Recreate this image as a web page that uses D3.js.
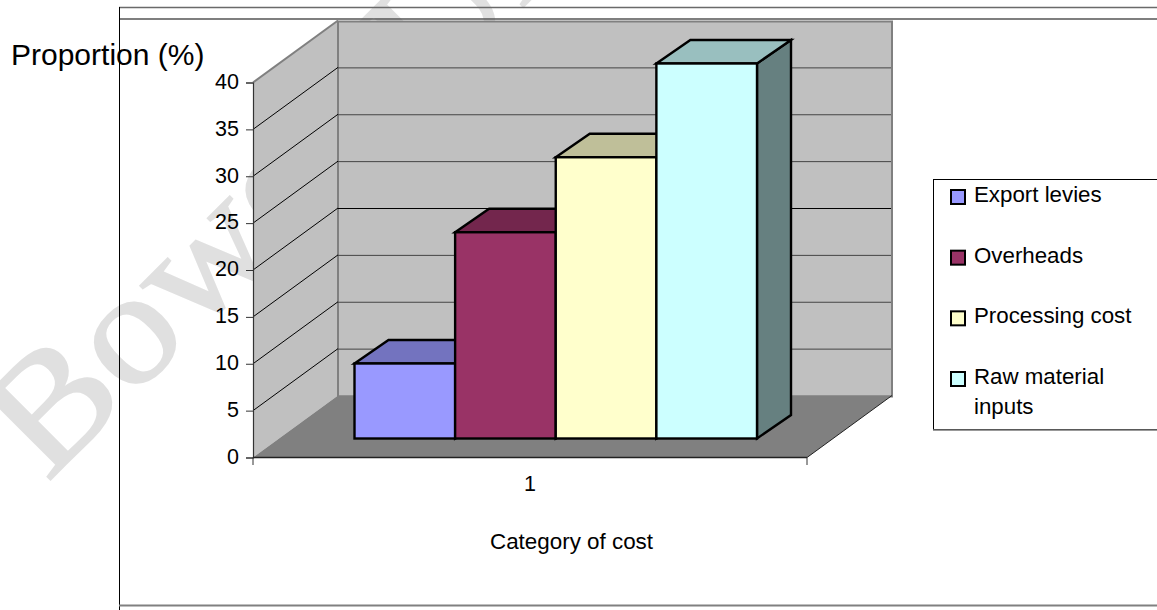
<!DOCTYPE html>
<html>
<head>
<meta charset="utf-8">
<script src="https://cdn.jsdelivr.net/npm/d3@7"></script>
<style>
html,body{margin:0;padding:0;background:#fff;overflow:hidden}
svg{display:block}
text{font-family:"Liberation Sans",Arial,sans-serif;fill:#000}
</style>
</head>
<body>
<div id="chart"></div>
<script>
// Cost shares, one column per cost category
const seriesNames = ["Export levies", "Overheads", "Processing cost", "Raw material inputs"];
const seriesValues = [8, 22, 30, 40];
const frontColors = ["#9999ff", "#993366", "#ffffcc", "#ccffff"];
const topColors = ["#7373bf", "#73264d", "#bfbf99", "#99bfbf"];
const sideColors = ["#4d4d80", "#4d1a33", "#808066", "#668080"];
const yTicks = [0, 5, 10, 15, 20, 25, 30, 35, 40];
const categoryLabels = ["1"];
const legendRows = [["Export levies"], ["Overheads"], ["Processing cost"], ["Raw material", "inputs"]];
const stampText = "Bowen University";

const W = 1157, H = 610;
const svg = d3.select("#chart").append("svg").attr("width", W).attr("height", H);

// Oblique projection: how far the floor recedes, and where columns stand on it
const wallDx = 85, wallDy = -62;
const barDx = 34, barDy = -23.5;
const barLift = -19;

const y = d3.scaleLinear().domain([0, 40]).range([457.5, 82.5]);
const xFloor = d3.scaleBand().domain(categoryLabels).range([253, 807]);
const xBar = d3.scaleBand().domain(seriesNames).range([354.5, 757]);

const pts = a => a.map(p => p.join(",")).join(" ");

// Faint stamp running diagonally under the chart
svg.append("text")
  .attr("transform", "translate(47,483) rotate(-45) scale(1.1,1)")
  .attr("font-size", 160)
  .style("font-family", '"Liberation Serif",serif')
  .style("fill", "#e0e0e0")
  .style("stroke", "#e0e0e0")
  .style("stroke-width", 2)
  .text(stampText);

// Outer frame
const frame = svg.append("g");
frame.append("line").attr("x1", 119).attr("x2", W).attr("y1", 7.5).attr("y2", 7.5).attr("stroke", "#6a6a6a").attr("stroke-width", 1.5);
frame.append("line").attr("x1", 119).attr("x2", W).attr("y1", 19).attr("y2", 19).attr("stroke", "#555").attr("stroke-width", 1.5);
frame.append("line").attr("x1", 119.5).attr("x2", 119.5).attr("y1", 7).attr("y2", H).attr("stroke", "#000").attr("stroke-width", 1);
frame.append("line").attr("x1", 119).attr("x2", W).attr("y1", 605.5).attr("y2", 605.5).attr("stroke", "#808080").attr("stroke-width", 2);

// Walls and floor
const x0 = xFloor.range()[0], x1 = xFloor.range()[1];
const yTop = y(40), yBase = y(0);
const walls = svg.append("g");
walls.append("polygon")
  .attr("points", pts([[x0, yTop], [x0 + wallDx, yTop + wallDy], [x0 + wallDx, yBase + wallDy], [x0, yBase]]))
  .attr("fill", "#c0c0c0");
walls.append("rect")
  .attr("x", x0 + wallDx).attr("y", yTop + wallDy + 1)
  .attr("width", x1 - x0).attr("height", yBase - yTop)
  .attr("fill", "#c0c0c0").attr("stroke", "#808080").attr("stroke-width", 2);
walls.append("polygon")
  .attr("points", pts([[x0, yBase], [x1, yBase], [x1 + wallDx, yBase + wallDy], [x0 + wallDx, yBase + wallDy]]))
  .attr("fill", "#808080");

// Gridlines wrap from the side wall onto the back wall
const grid = svg.append("g");
yTicks.filter(t => t > 0 && t < 40).forEach(t => {
  grid.append("line")
    .attr("x1", x0).attr("y1", y(t)).attr("x2", x0 + wallDx).attr("y2", y(t) + wallDy)
    .attr("stroke", "#000").attr("stroke-width", 1);
  grid.append("line")
    .attr("x1", x0 + wallDx).attr("y1", y(t) + wallDy + 0.5).attr("x2", x1 + wallDx - 1).attr("y2", y(t) + wallDy + 0.5)
    .attr("stroke", t === 20 ? "#000" : "#444").attr("stroke-width", 1);
});
grid.append("line")
  .attr("x1", x0).attr("y1", yTop).attr("x2", x0 + wallDx).attr("y2", yTop + wallDy)
  .attr("stroke", "#808080").attr("stroke-width", 2);
grid.append("line")
  .attr("x1", x1).attr("y1", yBase).attr("x2", x1 + wallDx).attr("y2", yBase + wallDy)
  .attr("stroke", "#222").attr("stroke-width", 1);

// Value axis on the front edge of the side wall
const yAxis = svg.append("g")
  .attr("transform", `translate(${x0},0)`)
  .call(d3.axisLeft(y).tickValues(yTicks).tickSize(7).tickPadding(7));
yAxis.selectAll("path").attr("stroke", "#333").attr("stroke-width", 1.2);
yAxis.selectAll("line").attr("stroke", "#333");
yAxis.selectAll("text").attr("font-size", 21.5).style("font-family", '"Liberation Sans",Arial,sans-serif').attr("dy", "0.27em");

// Category axis along the front of the floor
svg.append("line").attr("x1", x0).attr("x2", x1).attr("y1", yBase).attr("y2", yBase).attr("stroke", "#222").attr("stroke-width", 1.5);
[x0, x1].forEach(px => svg.append("line").attr("x1", px).attr("x2", px).attr("y1", yBase).attr("y2", yBase + 7.5).attr("stroke", "#333").attr("stroke-width", 1));
svg.selectAll(".cat").data(categoryLabels).join("text").attr("class", "cat")
  .attr("x", d => xFloor(d) + xFloor.bandwidth() / 2)
  .attr("y", 491)
  .attr("text-anchor", "middle")
  .attr("font-size", 21.5)
  .text(d => d);

// Columns, painted left to right so each front hides its neighbour's top and side
const bars = svg.append("g").attr("stroke", "#000").attr("stroke-width", 2.4).attr("stroke-linejoin", "miter");
seriesNames.forEach((name, i) => {
  const l = xBar(name), r = l + xBar.bandwidth();
  const t = y(seriesValues[i]) + barLift, b = y(0) + barLift;
  bars.append("polygon")
    .attr("points", pts([[r, t], [r + barDx, t + barDy], [r + barDx, b + barDy], [r, b]]))
    .attr("fill", sideColors[i]);
  bars.append("polygon")
    .attr("points", pts([[l, t], [l + barDx, t + barDy], [r + barDx, t + barDy], [r, t]]))
    .attr("fill", topColors[i]);
  bars.append("rect")
    .attr("x", l).attr("y", t).attr("width", r - l).attr("height", b - t)
    .attr("fill", frontColors[i]);
});

// Axis titles
svg.append("text").attr("x", 11).attr("y", 65).attr("font-size", 30).text("Proportion (%)");
svg.append("text").attr("x", 490).attr("y", 549).attr("font-size", 22.4).text("Category of cost");

// Legend
const legend = svg.append("g");
legend.append("rect").attr("x", 933.5).attr("y", 179.5).attr("width", 240).attr("height", 250)
  .attr("fill", "#fff").attr("stroke", "#000").attr("stroke-width", 1);
legend.append("line").attr("x1", 933).attr("x2", W).attr("y1", 430).attr("y2", 430).attr("stroke", "#777").attr("stroke-width", 1.5);
const rowY = d3.scalePoint().domain(seriesNames).range([202, 384]);
seriesNames.forEach((name, i) => {
  const base = rowY(name);
  legend.append("rect")
    .attr("x", 951).attr("y", base - 12).attr("width", 14).attr("height", 14)
    .attr("fill", frontColors[i]).attr("stroke", "#000").attr("stroke-width", 2);
  legendRows[i].forEach((lineText, k) => {
    legend.append("text").attr("x", 974).attr("y", base + k * 30)
      .attr("font-size", 22.3).text(lineText);
  });
});
</script>
</body>
</html>
